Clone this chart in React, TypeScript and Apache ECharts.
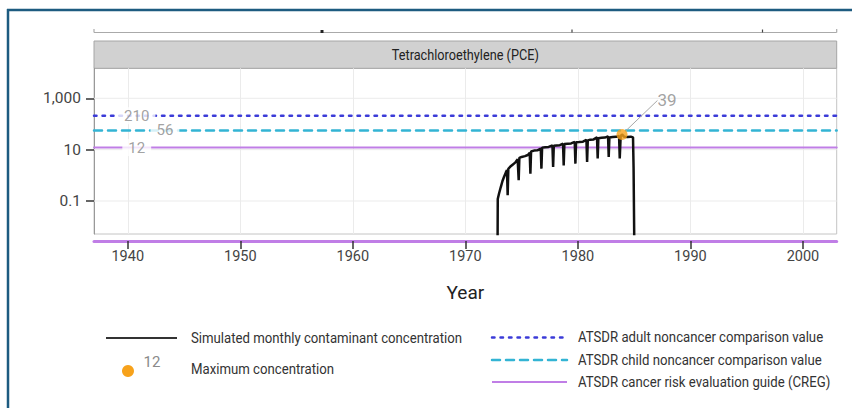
import React, { useEffect, useRef } from "react";
import * as echarts from "echarts";

// ---------- data ----------
const panelTitle = "Tetrachloroethylene (PCE)";
const xTitle = "Year";
const seriesName = "Simulated monthly contaminant concentration";
const maxName = "Maximum concentration";
const legendMaxLabel = "12";

const xTicks = [1940, 1950, 1960, 1970, 1980, 1990, 2000];
const yTicks = [0.1, 10, 1000];
const yTickLabels = ["0.1", "10", "1,000"];

const pceYears = [
  1972.86, 1972.88, 1973.0, 1973.15, 1973.3, 1973.45, 1973.6, 1973.7, 1973.76, 1973.82,
  1974.0, 1974.2, 1974.45, 1974.65, 1974.74, 1974.8, 1975.0, 1975.3, 1975.55, 1975.72,
  1975.78, 1975.84, 1976.1, 1976.4, 1976.7, 1976.76, 1976.82, 1977.1, 1977.4, 1977.74,
  1977.8, 1977.86, 1978.1, 1978.4, 1978.68, 1978.74, 1978.8, 1979.1, 1979.4, 1979.72,
  1979.78, 1979.84, 1980.1, 1980.45, 1980.76, 1980.82, 1980.88, 1981.1, 1981.4, 1981.7,
  1981.76, 1981.82, 1982.1, 1982.4, 1982.68, 1982.74, 1982.8, 1983.1, 1983.4, 1983.66,
  1983.72, 1983.8, 1983.92, 1984.1, 1984.4, 1984.7, 1984.9, 1984.95, 1985.02,
];
const pceValues = [
  0.001, 0.12, 0.2, 0.35, 0.6, 0.9, 1.3, 1.6, 0.17, 1.8,
  2.2, 2.6, 3.2, 4.2, 0.64, 4.8, 5.2, 5.6, 6.2, 7.5,
  1.16, 8.5, 9.2, 9.4, 11, 1.82, 12, 12.4, 12.8, 14.5,
  2.1, 14.2, 14.6, 14.9, 17, 2.45, 16.5, 17, 17.5, 20,
  2.85, 19.5, 19.8, 20.5, 24, 3.3, 23, 24.5, 25, 30,
  4.5, 28, 29, 29.5, 33, 5.2, 30, 31, 31.5, 34,
  4.5, 33, 39, 32, 31, 32, 30, 1.9, 0.001,
];
const maxYear = 1983.92;
const maxValue = 39;

const refNames = [
  "ATSDR adult noncancer comparison value",
  "ATSDR child noncancer comparison value",
  "ATSDR cancer risk evaluation guide (CREG)",
];
const refValues = [210, 56, 12];

// ---------- styling ----------
const FONT = "Roboto, 'Liberation Sans', sans-serif";
const X_MIN = 1937;
const X_MAX = 2003;
const refColors = ["#3b3bd8", "#33b4d4", "#c07ee6"];
const refDash: any[] = [[2.5, 6], [8, 6], "solid"];
const refLabelX = [1940.8, 1943.3, 1940.8];
const ORANGE = "#f7a21b";
const NARROW = 0.88; // horizontal squeeze that mimics the condensed typeface

export default function App() {
  const ref = useRef<HTMLDivElement>(null);

  useEffect(() => {
    if (!ref.current) return;
    const chart = echarts.init(ref.current, undefined, { renderer: "svg" });

    const series: any[] = [];
    // horizontal grid lines at major y ticks
    yTicks.forEach((v) => {
      series.push({
        type: "line",
        silent: true,
        symbol: "none",
        z: 1,
        lineStyle: { color: "#ebebeb", width: 1 },
        data: [[X_MIN, v], [X_MAX, v]],
      });
    });
    // reference lines
    refValues.forEach((v, i) => {
      series.push({
        type: "line",
        name: refNames[i],
        silent: true,
        symbol: "none",
        z: 2,
        lineStyle: { color: refColors[i], width: i === 2 ? 2 : 2.5, type: refDash[i], cap: "round" },
        data: [[X_MIN, v], [X_MAX, v]],
      });
    });
    // reference labels
    series.push({
      type: "scatter",
      silent: true,
      symbolSize: 0,
      z: 3,
      data: refValues.map((v, i) => [refLabelX[i], v]),
      label: {
        show: true,
        position: "inside",
        formatter: (p: any) => String(p.value[1]),
        backgroundColor: "#fff",
        padding: [1, 6],
        color: "#8a8a8a",
        fontFamily: FONT,
        fontSize: 15,
      },
    });
    // main series
    series.push({
      type: "line",
      name: seriesName,
      symbol: "none",
      z: 4,
      lineStyle: { color: "#111", width: 2.5 },
      data: pceYears.map((y, i) => [y, pceValues[i]]),
    });
    // maximum
    series.push({
      type: "scatter",
      name: maxName,
      z: 5,
      symbolSize: 11,
      itemStyle: { color: ORANGE },
      data: [[maxYear, maxValue]],
      label: {
        show: true,
        position: "inside",
        formatter: (p: any) => String(p.value[1]),
        color: "#8a8a8a",
        fontFamily: FONT,
        fontSize: 17,
      },
      labelLayout: { dx: 45, dy: -34 },
      labelLine: { show: true, lineStyle: { color: "#a8a8a8", width: 1 } },
    });

    const txt = (x: number, y: number, text: string, opts: any = {}) => ({
      type: "text",
      x,
      y,
      scaleX: opts.scaleX ?? NARROW,
      silent: true,
      style: {
        text,
        fill: opts.fill || "#333",
        fontFamily: FONT,
        fontSize: opts.fontSize || 15,
        textAlign: opts.align || "left",
        textVerticalAlign: "middle",
      },
    });
    const ln = (x1: number, y1: number, x2: number, y2: number, stroke: string, lineWidth: number, lineDash?: any) => ({
      type: "line",
      silent: true,
      shape: { x1, y1, x2, y2 },
      style: { stroke, lineWidth, lineDash, lineCap: lineDash ? "round" : "butt" },
    });

    const graphic: any[] = [
      // frame
      ln(7, 10, 852, 10, "#1d5b80", 2.5),
      ln(8, 9, 8, 408, "#1d5b80", 2.5),
      // remnant of the panel above
      ln(94, 32.5, 836.7, 32.5, "#aaaaaa", 1.2),
      ln(94, 29, 94, 32.5, "#aaaaaa", 1.2),
      ln(836.7, 29, 836.7, 32.5, "#aaaaaa", 1.2),
      ln(572, 29.5, 572, 32.5, "#444", 1.2),
      ln(762.5, 29.5, 762.5, 32.5, "#444", 1.2),
      { type: "rect", silent: true, shape: { x: 320.5, y: 30, width: 3, height: 3 }, style: { fill: "#222" } },
      // strip
      { type: "rect", silent: true, shape: { x: 94, y: 41, width: 742.7, height: 27.3 }, style: { fill: "#d1d1d1", stroke: "#a6a6a6", lineWidth: 1 } },
      txt(465.3, 55, panelTitle, { align: "center", fill: "#222", fontSize: 15.5, scaleX: 0.82 }),
      // legend, left column
      ln(106, 338, 177, 338, "#333", 2),
      txt(191, 338, seriesName),
      { type: "circle", silent: true, shape: { cx: 128, cy: 371, r: 6 }, style: { fill: ORANGE } },
      txt(152, 362, legendMaxLabel, { align: "center", fill: "#8a8a8a", scaleX: 1 }),
      txt(191, 369, maxName),
      // legend, right column
      ln(492, 337.5, 567, 337.5, refColors[0], 2.5, [2.5, 6]),
      txt(578, 337, refNames[0]),
      ln(492, 360, 567, 360, refColors[1], 2.5, [8, 6]),
      txt(578, 360, refNames[1]),
      ln(492, 382, 567, 382, refColors[2], 2),
      txt(578, 382, refNames[2]),
    ];

    chart.setOption({
      animation: false,
      backgroundColor: "#fff",
      grid: {
        left: 94,
        right: 15.3,
        top: 68.3,
        bottom: 174,
        show: true,
        borderColor: "#c4c4c4",
        borderWidth: 1,
        backgroundColor: "#fff",
      },
      xAxis: {
        type: "value",
        min: X_MIN,
        max: X_MAX,
        offset: 7,
        axisLine: { show: true, onZero: false, lineStyle: { color: "#c07ee6", width: 3 } },
        axisTick: { show: true, length: 8, customValues: xTicks, lineStyle: { color: "#333", width: 1.5 } },
        axisLabel: {
          customValues: xTicks,
          margin: 8,
          fontFamily: FONT,
          fontSize: 14.5,
          color: "#444",
          formatter: (v: number) => String(v),
        },
        splitLine: { show: true, lineStyle: { color: "#ebebeb", width: 1 } },
        name: xTitle,
        nameLocation: "middle",
        nameGap: 42,
        nameTextStyle: { fontFamily: FONT, fontSize: 19, color: "#222" },
      },
      yAxis: {
        type: "log",
        logBase: 10,
        min: 0.0052,
        max: 14700,
        axisLine: { show: true, lineStyle: { color: "#999", width: 1 } },
        axisTick: { show: true, length: 8, customValues: yTicks, lineStyle: { color: "#333", width: 1.5 } },
        axisLabel: {
          customValues: yTicks,
          margin: 13,
          fontFamily: FONT,
          fontSize: 15.5,
          color: "#444",
          formatter: (v: number) => {
            const i = yTicks.findIndex((t) => Math.abs(Math.log10(t) - Math.log10(v)) < 1e-6);
            return i >= 0 ? yTickLabels[i] : "";
          },
        },
        splitLine: { show: false },
      },
      series,
      graphic,
    });

    return () => chart.dispose();
  }, []);

  return (
    <div
      ref={ref}
      style={{ position: "absolute", left: 0, top: 0, width: 852, height: 408 }}
    />
  );
}
